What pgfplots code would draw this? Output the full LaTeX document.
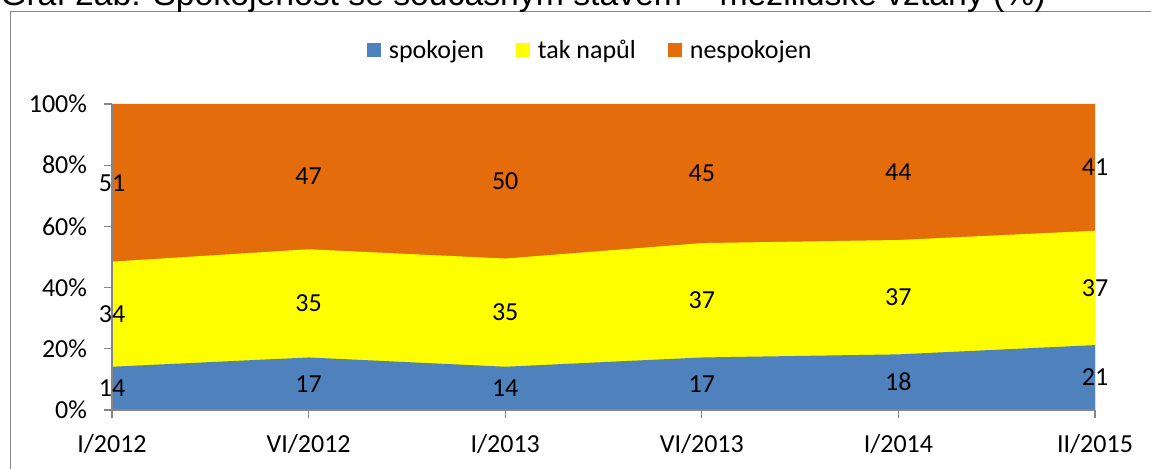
\documentclass[border=0pt]{standalone}
\usepackage{fontspec}
\setmainfont{Carlito}
\newfontfamily\arialfont{Liberation Sans}
\usepackage{pgfplots}
\pgfplotsset{compat=1.18}
\usepackage{pgfplotstable}

\definecolor{spblue}{HTML}{4F81BD}
\definecolor{spyellow}{HTML}{FFFF00}
\definecolor{sporange}{HTML}{E46C0A}
\definecolor{axgray}{HTML}{868686}

% spokojen / tak napul / nespokojen, values as printed (rows sum to 99)
\pgfplotstableread{
x s t n
0 14 34 51
1 17 35 47
2 14 35 50
3 17 37 45
4 18 37 44
5 21 37 41
}\datatable

\def\tot{(\thisrow{s}+\thisrow{t}+\thisrow{n})}

\begin{document}
\begin{tikzpicture}
\useasboundingbox (0pt,0pt) rectangle (863.25pt,351pt);
\clip (0pt,0pt) rectangle (863.25pt,351pt);
\begin{scope}[x=0.75pt,y=0.75pt]
% chart frame
\draw[axgray, line width=1pt] (10.5,-10) -- (10.5,456.5) -- (1170,456.5);
% title (cut off at the top edge, as in the source)
\node[anchor=base west, inner sep=0pt, font=\arialfont\fontsize{25.3}{30}\selectfont]
  at (0,462.5) {Graf 2ab: Spokojenost se současným stavem – mezilidské vztahy (\%)};
\end{scope}

\begin{axis}[
  at={(84pt,43.5pt)}, anchor=south west, scale only axis,
  width=737.25pt, height=229.5pt,
  xmin=0, xmax=5, ymin=0, ymax=100,
  axis lines=left, axis line style={-, axgray, line width=0.9pt},
  axis on top, clip=false,
  xtick={0,...,5},
  xticklabels={I/2012, VI/2012, I/2013, VI/2013, I/2014, II/2015},
  ytick={0,20,...,100},
  yticklabel={\pgfmathprintnumber{\tick}\%},
  /pgf/number format/assume math mode=true,
  tick align=outside, major tick length=6pt,
  tick style={axgray, line width=0.9pt},
  tick label style={font=\fontsize{19.5}{22}\selectfont, text=black},
  xticklabel style={yshift=-9pt},
  yticklabel style={xshift=-9.25pt},
  reverse legend,
  legend columns=-1,
  legend style={at={(0.4868,1.176)}, anchor=center, draw=none, fill=none,
    font=\fontsize{19.5}{22}\selectfont,
    /tikz/every odd column/.append style={column sep=4pt},
    /tikz/every even column/.append style={column sep=22pt}},
  legend image code/.code={\fill[#1] (0pt,-5.25pt) rectangle (10.5pt,5.25pt);},
  nodes near coords,
  every node near coord/.append style={anchor=center, text=black,
    font=\fontsize{19.5}{22}\selectfont},
]
\addplot[fill=sporange, draw=none, nodes near coords=]
  table[x=x, y expr={100*\tot/\tot}] {\datatable} \closedcycle;
\addlegendentry{nespokojen}
\addplot[fill=spyellow, draw=none, nodes near coords=]
  table[x=x, y expr={100*(\thisrow{s}+\thisrow{t})/\tot}] {\datatable} \closedcycle;
\addlegendentry{tak napůl}
\addplot[fill=spblue, draw=none, nodes near coords=]
  table[x=x, y expr={100*\thisrow{s}/\tot}] {\datatable} \closedcycle;
\addlegendentry{spokojen}
% value labels in the middle of each band
\addplot[draw=none, mark=none, forget plot, point meta=explicit]
  table[x=x, y expr={100*(\thisrow{s}/2)/\tot}, meta=s] {\datatable};
\addplot[draw=none, mark=none, forget plot, point meta=explicit]
  table[x=x, y expr={100*(\thisrow{s}+\thisrow{t}/2)/\tot}, meta=t] {\datatable};
\addplot[draw=none, mark=none, forget plot, point meta=explicit]
  table[x=x, y expr={100*(\thisrow{s}+\thisrow{t}+\thisrow{n}/2)/\tot}, meta=n] {\datatable};
\end{axis}
\end{tikzpicture}
\end{document}
